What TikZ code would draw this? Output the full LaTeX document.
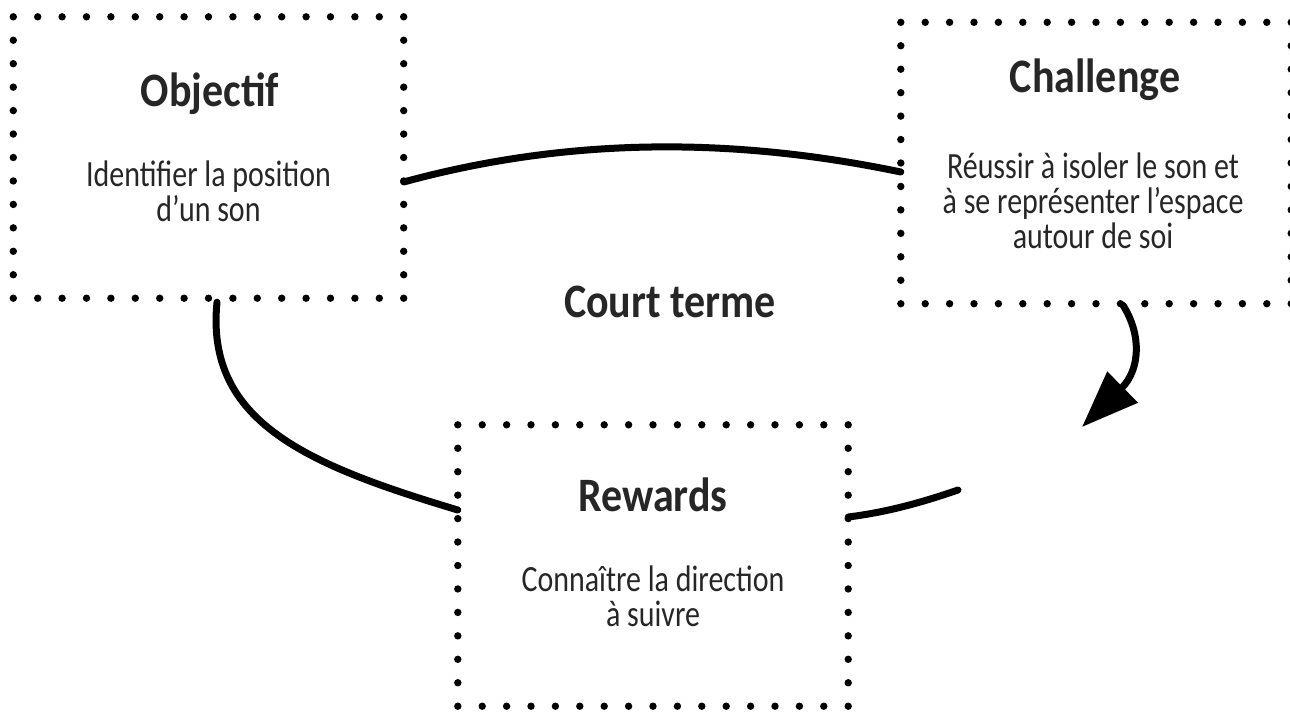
\documentclass[tikz,border=0pt]{standalone}
\usepackage{fontspec}
\setmainfont{Carlito}
\newfontfamily\bodyfont[FakeStretch=0.81]{Carlito}
\newfontfamily\headfont[FakeStretch=0.875]{Carlito}
\usetikzlibrary{calc,arrows.meta}
\definecolor{ink}{HTML}{262626}

% dotted frame drawn as round dots along the border of a node
\newcommand\dotframe[1]{%
  \foreach \i in {0,...,16}{%
    \fill ($(#1.north west)!\i/16!(#1.north east)$) circle[radius=3.7pt];
    \fill ($(#1.south west)!\i/16!(#1.south east)$) circle[radius=3.7pt];
  }%
  \foreach \j in {1,...,11}{%
    \fill ($(#1.north west)!\j/12!(#1.south west)$) circle[radius=3.7pt];
    \fill ($(#1.north east)!\j/12!(#1.south east)$) circle[radius=3.7pt];
  }%
}

\begin{document}
\begin{tikzpicture}[x=1pt,y=-1pt,
  frame/.style={minimum width=390pt,minimum height=281pt,inner sep=0pt},
  heading/.style={font=\headfont\bfseries\fontsize{48}{52}\selectfont,text=ink,anchor=base,inner sep=0pt},
  body/.style={font=\bodyfont\fontsize{37}{35}\selectfont,text=ink,align=center,anchor=base,inner sep=0pt},
  link/.style={line width=7pt,line cap=round}]
\useasboundingbox (0,0) rectangle (1290,713);

% the three cards
\node[frame] (obj) at (208.5,157.5) {};
\node[frame] (cha) at (1096,163) {};
\node[frame] (rew) at (653,565.5) {};
\dotframe{obj}
\dotframe{cha}
\dotframe{rew}

% card texts (a multi-line node sits on the baseline of its last line)
\node[heading] (objT) at ($(obj.north)+(1.5,90)$) {Objectif};
\node[body] (objB) at ($(obj.north)+(0,205)$) {Identifier la position\\d’un son};
\node[heading] (chaT) at ($(cha.north)+(-1,70)$) {Challenge};
\node[body] (chaB) at ($(cha.north)+(-3,226)$) {Réussir à isoler le son et\\à se représenter l’espace\\autour de soi};
\node[heading] (rewT) at ($(rew.north)+(0,87)$) {Rewards};
\node[body] (rewB) at ($(rew.north)+(0,202)$) {Connaître la direction\\à suivre};

% centre label
\node[heading] (court) at (670,317) {Court terme};

% connectors
\coordinate (tip) at (1082,427);
\coordinate (gapEnd) at (958,490);
\draw[link] ($(obj.east)+(0,24.5)$) .. controls +(165,-45) and +(-168,-35) .. ($(cha.west)+(0,9)$);
\draw[link] ($(obj.south)+(8.5,4)$) .. controls +(-12,120) and +(-150,-45) .. ($(rew.west)+(0,-55.5)$);
\draw[link,-{Triangle[length=57pt,width=42pt]}] ($(cha.south)+(27,1.5)$) .. controls +(19,30) and +(58,-57) .. (tip);
\draw[link] (gapEnd) .. controls +(-35,12) and +(40,-5) .. ($(rew.east)+(0,-48.5)$);
\end{tikzpicture}
\end{document}
